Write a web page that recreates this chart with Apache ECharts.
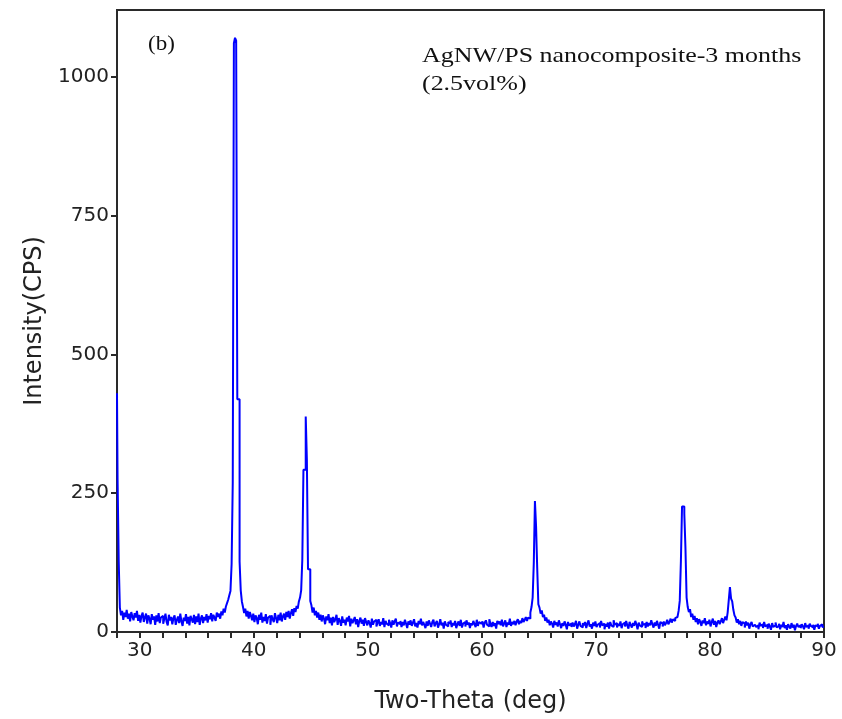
<!DOCTYPE html>
<html>
<head>
<meta charset="utf-8">
<script src="https://cdn.jsdelivr.net/npm/echarts@6/dist/echarts.min.js"></script>
<style>
  html, body { margin: 0; padding: 0; background: #fff; }
  #main { width: 842px; height: 719px; }
</style>
</head>
<body>
<div id="main"></div>
<script>
// scan: 28.0 -> 90.0 deg, step 0.1 deg
var scanStart = 28.0;
var scanStep = 0.1;

// intensity (CPS), one row per degree
var intensity = [
  430, 275, 128, 44, 30, 38, 22, 35, 27, 40,     // 28
  24, 33, 19, 36, 28, 21, 34, 26, 38, 20,        // 29
  31, 17, 29, 35, 18, 27, 33, 15, 30, 24,        // 30
  14, 32, 22, 28, 13, 30, 19, 34, 16, 26,        // 31
  29, 15, 24, 33, 18, 12, 31, 21, 27, 14,        // 32
  25, 30, 13, 22, 28, 16, 33, 19, 11, 26,        // 33
  20, 32, 15, 27, 12, 29, 23, 17, 31, 14,        // 34
  28, 18, 33, 13, 24, 30, 16, 27, 21, 32,        // 35
  17, 29, 23, 34, 19, 31, 26, 20, 35, 27,        // 36
  33, 24, 37, 30, 42, 35, 46, 52, 58, 66,        // 37
  74, 122, 268, 1060, 1070, 1065, 419, 419, 127, 75, // 38
  55, 45, 34, 42, 28, 38, 24, 36, 29, 21,        // 39
  33, 18, 30, 25, 14, 31, 22, 35, 17, 27,        // 40
  20, 32, 15, 26, 29, 13, 30, 23, 18, 34,        // 41
  25, 16, 31, 21, 35, 19, 28, 33, 22, 36,        // 42
  27, 38, 24, 34, 41, 29, 43, 36, 47, 42,        // 43
  55, 62, 75, 130, 292, 292, 388, 310, 113, 113, // 44
  56, 48, 35, 44, 30, 38, 26, 35, 22, 31,        // 45
  19, 30, 24, 14, 28, 21, 32, 16, 26, 12,        // 46
  27, 18, 23, 31, 13, 25, 20, 11, 28, 17,        // 47
  22, 12, 26, 19, 29, 10, 24, 16, 21, 27,        // 48
  14, 23, 9, 20, 26, 15, 22, 11, 25, 18,         // 49
  12, 21, 16, 8, 24, 13, 19, 22, 10, 17,         // 50
  23, 11, 18, 14, 25, 9, 20, 15, 12, 22,         // 51
  16, 8, 21, 13, 19, 24, 10, 17, 14, 20,         // 52
  9, 18, 12, 22, 15, 7, 19, 13, 21, 11,          // 53
  17, 23, 10, 16, 8, 20, 14, 24, 12, 18,         // 54
  13, 7, 19, 11, 21, 15, 9, 18, 22, 10,          // 55
  16, 20, 8, 14, 23, 12, 17, 6, 19, 13,          // 56
  10, 18, 15, 21, 9, 16, 12, 20, 7, 14,          // 57
  19, 11, 22, 8, 15, 18, 10, 21, 13, 17,         // 58
  7, 16, 12, 20, 14, 9, 22, 11, 18, 15,          // 59
  12, 19, 8, 17, 21, 13, 10, 23, 15, 9,          // 60
  18, 11, 16, 6, 20, 14, 19, 12, 22, 10,         // 61
  15, 21, 9, 17, 13, 24, 11, 18, 14, 20,         // 62
  12, 19, 23, 14, 20, 16, 25, 18, 22, 27,        // 63
  20, 26, 24, 35, 45, 62, 124, 236, 190, 115,    // 64
  50, 44, 33, 39, 27, 31, 20, 26, 17, 22,        // 65
  12, 19, 15, 8, 20, 13, 17, 10, 21, 14,         // 66
  7, 16, 11, 19, 13, 5, 18, 12, 15, 9,           // 67
  17, 10, 14, 20, 6, 13, 19, 11, 8, 16,          // 68
  12, 18, 7, 15, 21, 10, 14, 6, 17, 11,          // 69
  19, 9, 13, 16, 8, 20, 12, 15, 5, 14,           // 70
  10, 17, 6, 18, 12, 9, 21, 13, 16, 8,           // 71
  15, 11, 19, 7, 14, 17, 10, 20, 12, 6,          // 72
  18, 13, 8, 16, 11, 20, 14, 5, 17, 12,          // 73
  9, 19, 13, 15, 7, 18, 10, 16, 12, 21,          // 74
  14, 8, 17, 11, 20, 13, 6, 18, 15, 10,          // 75
  19, 12, 16, 22, 14, 18, 24, 17, 23, 20,        // 76
  25, 27, 30, 38, 56, 127, 226, 226, 213, 151,   // 77
  62, 45, 36, 41, 27, 33, 22, 29, 18, 25,        // 78
  14, 23, 18, 11, 21, 16, 25, 12, 19, 15,        // 79
  22, 10, 18, 24, 13, 20, 9, 17, 21, 14,         // 80
  19, 25, 16, 22, 28, 21, 35, 58, 81, 60,        // 81
  55, 40, 30, 26, 17, 23, 14, 20, 11, 18,        // 82
  15, 8, 19, 12, 17, 6, 14, 18, 10, 13,          // 83
  16, 9, 12, 5, 17, 11, 14, 7, 18, 10,           // 84
  13, 6, 15, 10, 4, 16, 9, 12, 17, 8,            // 85
  11, 15, 5, 13, 9, 18, 7, 12, 4, 14,            // 86
  10, 6, 16, 8, 13, 3, 11, 15, 9, 12,            // 87
  7, 14, 10, 5, 16, 9, 12, 6, 15, 11,            // 88
  8, 13, 4, 12, 10, 15, 6, 11, 14, 9,            // 89
  10                                             // 90
];

var xTicks = [28, 30, 32, 34, 36, 38, 40, 42, 44, 46, 48, 50, 52, 54, 56, 58,
              60, 62, 64, 66, 68, 70, 72, 74, 76, 78, 80, 82, 84, 86, 88, 90];
var xLabels = [30, 40, 50, 60, 70, 80, 90];
var yTicks = [0, 250, 500, 750, 1000];

var seriesData = intensity.map(function (v, i) {
    return [Math.round((scanStart + i * scanStep) * 10) / 10, v];
});

var chartDom = document.getElementById('main');
var myChart = echarts.init(chartDom);
var axisColor = '#2a2a2a';
var option;
option = {
    animation: false,
    grid: {
        left: 117,
        right: 18,
        top: 10,
        bottom: 77,
        show: true,
        borderColor: axisColor,
        borderWidth: 2
    },
    xAxis: {
        type: 'value',
        min: 28,
        max: 90,
        name: 'Two-Theta (deg)',
        nameLocation: 'middle',
        nameGap: 58,
        nameTextStyle: { fontFamily: 'DejaVu Sans', fontSize: 24, color: '#222' },
        splitLine: { show: false },
        axisLine: { lineStyle: { color: axisColor, width: 2 } },
        axisTick: { customValues: xTicks, length: 6, lineStyle: { color: axisColor, width: 2 } },
        axisLabel: {
            customValues: xLabels,
            margin: 9,
            fontFamily: 'DejaVu Sans',
            fontSize: 20,
            color: '#222',
            formatter: function (v) { return String(v); }
        }
    },
    yAxis: {
        type: 'value',
        min: 0,
        max: 1120,
        name: 'Intensity(CPS)',
        nameLocation: 'middle',
        nameGap: 70,
        nameTextStyle: { fontFamily: 'DejaVu Sans', fontSize: 24, color: '#222' },
        splitLine: { show: false },
        axisLine: { show: true, lineStyle: { color: axisColor, width: 2 } },
        axisTick: { show: true, customValues: yTicks, length: 6, lineStyle: { color: axisColor, width: 2 } },
        axisLabel: {
            customValues: yTicks,
            margin: 8,
            fontFamily: 'DejaVu Sans',
            fontSize: 20,
            color: '#222',
            formatter: function (v) { return String(v); }
        }
    },
    graphic: [
        {
            type: 'text', left: 148, top: 35, scaleX: 1.15,
            style: { text: '(b)', font: '20px "Liberation Serif"', fill: '#111' }
        },
        {
            type: 'text', left: 422, top: 42, scaleX: 1.18,
            style: {
                text: 'AgNW/PS nanocomposite-3 months\n(2.5vol%)',
                font: '22px "Liberation Serif"',
                lineHeight: 28,
                fill: '#111'
            }
        }
    ],
    series: [
        {
            type: 'line',
            step: 'middle',
            data: seriesData,
            showSymbol: false,
            lineStyle: { color: '#0000ff', width: 2 },
            clip: true
        }
    ]
};
option && myChart.setOption(option);
</script>
</body>
</html>
